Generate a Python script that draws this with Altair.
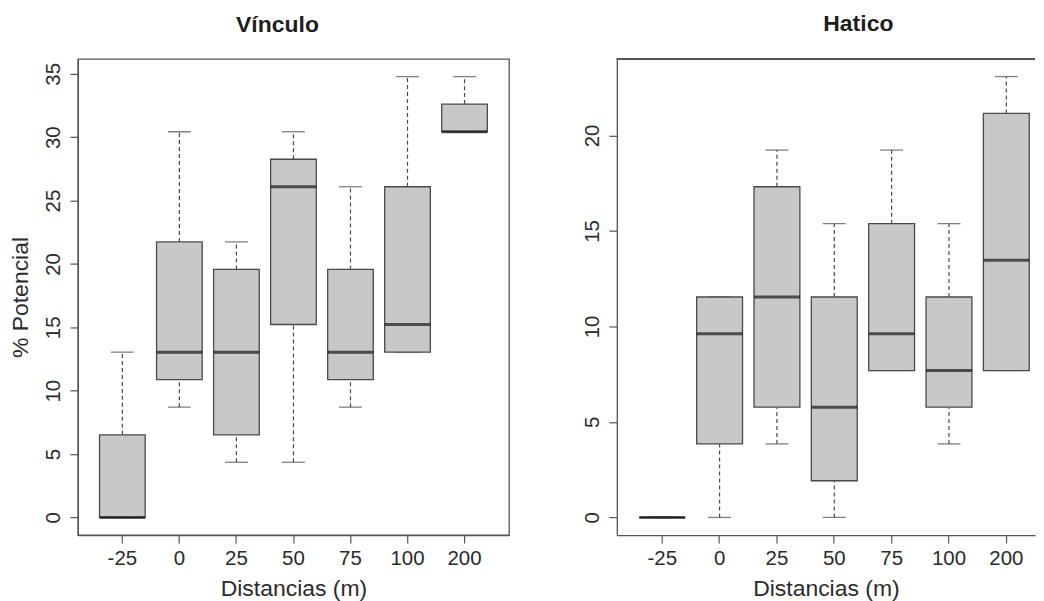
import altair as alt
import pandas as pd

cats = ["-25", "0", "25", "50", "75", "100", "200"]

# Vínculo
v_min = [0.00, 8.70, 4.35, 4.35, 8.70, 13.04, 30.43]
v_q1 = [0.00, 10.87, 6.52, 15.22, 10.87, 13.04, 30.43]
v_med = [0.00, 13.04, 13.04, 26.09, 13.04, 15.22, 30.43]
v_q3 = [6.52, 21.74, 19.57, 28.26, 19.57, 26.09, 32.61]
v_max = [13.04, 30.43, 21.74, 30.43, 26.09, 34.78, 34.78]

# Hatico
h_min = [0.00, 0.00, 3.85, 0.00, 7.69, 3.85, 7.69]
h_q1 = [0.00, 3.85, 5.77, 1.92, 7.69, 5.77, 7.69]
h_med = [0.00, 9.62, 11.54, 5.77, 9.62, 7.69, 13.46]
h_q3 = [0.00, 11.54, 17.31, 11.54, 15.38, 11.54, 21.15]
h_max = [0.00, 11.54, 19.23, 15.38, 19.23, 15.38, 23.08]

FONT = "Liberation Sans"
H = 477
BOX_FILL = "#c8c8c9"
LINE = "#4a4a4a"


def panel(title, mins, q1s, meds, q3s, maxs, width, pad_outer, align,
          ydomain, yticks, ytitle, title_dx, right_border=True):
    df = pd.DataFrame({"cat": cats, "lo": mins, "q1": q1s, "med": meds,
                       "q3": q3s, "hi": maxs})
    step = width / (7 + 2 * pad_outer)
    x = alt.X("cat:N", sort=cats,
              scale=alt.Scale(type="band", paddingInner=0,
                              paddingOuter=pad_outer, align=align),
              axis=alt.Axis(labelAngle=0, labelBaseline="alphabetic",
                            labelPadding=22, titleY=61,
                            titleBaseline="alphabetic"),
              title="Distancias (m)")
    yscale = alt.Scale(domain=ydomain, nice=False, zero=False)
    yaxis_kw = dict(values=yticks, labelAngle=270, labelAlign="center",
                    labelBaseline="alphabetic", labelPadding=10)
    if ytitle:
        yaxis = alt.Axis(titleX=-50, titleY=H / 2, titleAngle=270,
                         titleAlign="center", titleBaseline="alphabetic",
                         **yaxis_kw)
        y_title = ytitle
    else:
        yaxis = alt.Axis(**yaxis_kw)
        y_title = None
    base = alt.Chart(df)
    lower = base.mark_rule(color=LINE, strokeWidth=1.2, strokeDash=[4, 3]).encode(
        x=x, y=alt.Y("lo:Q", scale=yscale, axis=yaxis, title=y_title), y2="q1:Q")
    upper = base.mark_rule(color=LINE, strokeWidth=1.2, strokeDash=[4, 3]).encode(
        x=x, y=alt.Y("q3:Q", scale=yscale, axis=yaxis, title=y_title), y2="hi:Q")
    cap_lo = base.mark_tick(color=LINE, thickness=1.3, size=0.4 * step).encode(
        x=x, y=alt.Y("lo:Q", scale=yscale, axis=yaxis, title=y_title))
    cap_hi = base.mark_tick(color=LINE, thickness=1.3, size=0.4 * step).encode(
        x=x, y=alt.Y("hi:Q", scale=yscale, axis=yaxis, title=y_title))
    box = base.mark_bar(width=alt.RelativeBandSize(0.8), fill=BOX_FILL,
                        stroke=LINE, strokeWidth=1.3).encode(
        x=x, y=alt.Y("q1:Q", scale=yscale, axis=yaxis, title=y_title), y2="q3:Q")
    med = base.mark_tick(color="#151515", thickness=3, size=0.8 * step).encode(
        x=x, y=alt.Y("med:Q", scale=yscale, axis=yaxis, title=y_title))
    layers = [lower, upper, cap_lo, cap_hi, box, med]
    props = dict(width=width, height=H,
                 title=alt.TitleParams(title, fontSize=23, fontWeight="bold",
                                       font=FONT, color="#1e1e1e", offset=22,
                                       dx=title_dx, anchor="middle"))
    if not right_border:
        top = alt.Chart(df).mark_rule(color="#555555", strokeWidth=1.2).encode(
            x=alt.value(0), x2=alt.value(width), y=alt.value(0))
        layers.append(top)
        props["view"] = alt.ViewBackground(strokeOpacity=0)
    return alt.layer(*layers).properties(**props)


left = panel("Vínculo", v_min, v_q1, v_med, v_q3, v_max, 432, 0.28, 0.5,
             [-1.39, 36.17], [0, 5, 10, 15, 20, 25, 30, 35], "% Potencial", -16)
right = panel("Hatico", h_min, h_q1, h_med, h_q3, h_max, 419, 0.146, 1,
              [-0.923, 24.0], [0, 5, 10, 15, 20], None, 32.5, right_border=False)

chart = alt.hconcat(left, right, spacing=73).properties(
    padding={"top": 4.5, "left": 1, "right": 0, "bottom": 0}
).configure_view(stroke="#555555", strokeWidth=1.3).configure_axis(
    grid=False, domainColor="#555555", domainWidth=1.3, tickColor="#555555",
    tickSize=8, tickWidth=1.2, labelFont=FONT, labelFontSize=20.5,
    labelColor="#2b2b2b", titleFont=FONT, titleFontSize=23,
    titleFontWeight="normal", titleColor="#2b2b2b"
)

chart.save("out.html", embed_options={"renderer": "svg", "actions": False})
